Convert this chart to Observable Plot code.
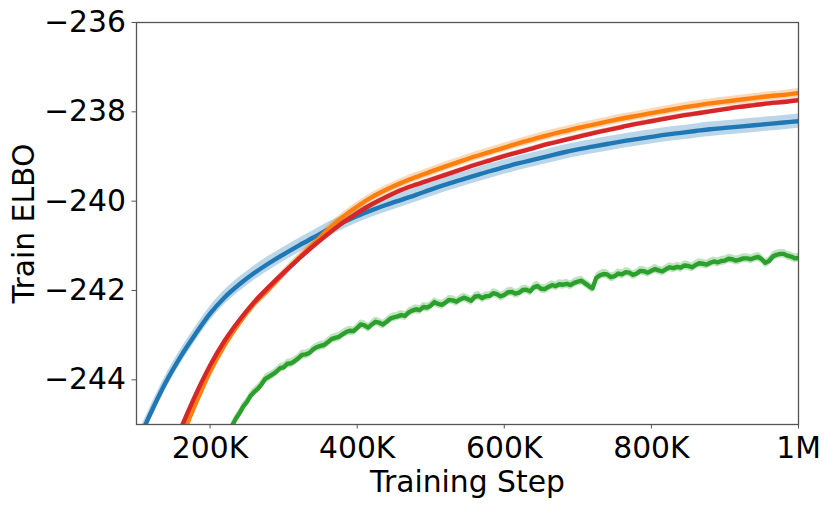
<!DOCTYPE html>
<html>
<head>
<meta charset="utf-8">
<script src="https://cdn.jsdelivr.net/npm/d3@7"></script>
<script src="https://cdn.jsdelivr.net/npm/@observablehq/plot@0.6"></script>
<style>
  html, body { margin: 0; padding: 0; background: #fff; }
</style>
</head>
<body>
<div id="chart"></div>
<script>
// Training step in thousands
const stepsBlue = [100,120,140,160,180,200,220,240,260,280,300,320,340,360,380,400,420,440,460,480,500,520,540,560,580,600,620,640,660,680,700,720,740,760,780,800,820,840,860,880,900,920,940,960,980,1000];
const blueElbo = [-245.45,-244.72,-244.05,-243.48,-242.98,-242.52,-242.15,-241.86,-241.61,-241.39,-241.19,-241.00,-240.82,-240.64,-240.48,-240.33,-240.20,-240.08,-239.97,-239.86,-239.74,-239.63,-239.53,-239.43,-239.33,-239.24,-239.15,-239.07,-238.99,-238.91,-238.84,-238.78,-238.72,-238.66,-238.61,-238.56,-238.51,-238.47,-238.43,-238.39,-238.36,-238.33,-238.30,-238.27,-238.24,-238.21];

const stepsOrangeRed = [140,160,180,200,220,240,260,280,300,320,340,360,380,400,420,440,460,480,500,520,540,560,580,600,620,640,660,680,700,720,740,760,780,800,820,840,860,880,900,920,940,960,980,1000];
const orangeElbo = [-246.20,-245.35,-244.55,-243.82,-243.22,-242.72,-242.30,-241.97,-241.62,-241.28,-240.96,-240.64,-240.36,-240.12,-239.91,-239.74,-239.59,-239.46,-239.34,-239.22,-239.11,-239.00,-238.90,-238.80,-238.70,-238.61,-238.52,-238.44,-238.36,-238.29,-238.22,-238.15,-238.09,-238.03,-237.97,-237.91,-237.86,-237.81,-237.77,-237.73,-237.69,-237.65,-237.62,-237.58];
const redElbo = [-245.90,-245.10,-244.35,-243.68,-243.12,-242.66,-242.26,-241.92,-241.60,-241.30,-241.01,-240.74,-240.49,-240.27,-240.07,-239.90,-239.75,-239.63,-239.52,-239.41,-239.30,-239.19,-239.09,-238.99,-238.90,-238.81,-238.72,-238.64,-238.56,-238.48,-238.41,-238.34,-238.27,-238.21,-238.15,-238.09,-238.04,-237.99,-237.94,-237.89,-237.85,-237.81,-237.78,-237.74];

// green run: [step (K), ELBO]
const greenRun = [
[220,-245.35],[225,-245.18],[230,-245.03],[235,-244.87],[240,-244.75],[245,-244.60],[250,-244.50],[255,-244.36],[260,-244.27],[265,-244.20],
[270,-244.10],[275,-243.98],[280,-243.93],[285,-243.88],[290,-243.82],[295,-243.74],[300,-243.72],[305,-243.64],[310,-243.63],[315,-243.58],
[320,-243.52],[325,-243.44],[330,-243.43],[335,-243.40],[340,-243.32],[345,-243.27],[350,-243.24],[355,-243.22],[360,-243.16],[365,-243.09],
[370,-243.06],[375,-243.04],[380,-242.98],[385,-242.93],[390,-242.90],[395,-242.91],[400,-242.84],[405,-242.76],[410,-242.78],[415,-242.83],
[420,-242.76],[425,-242.70],[430,-242.72],[435,-242.76],[440,-242.70],[445,-242.63],[450,-242.60],[455,-242.58],[460,-242.55],[465,-242.57],
[470,-242.49],[475,-242.45],[480,-242.42],[485,-242.44],[490,-242.37],[495,-242.38],[500,-242.34],[505,-242.26],[510,-242.30],[515,-242.32],
[520,-242.27],[525,-242.21],[530,-242.22],[535,-242.25],[540,-242.20],[545,-242.16],[550,-242.19],[555,-242.23],[560,-242.14],[565,-242.12],
[570,-242.17],[575,-242.13],[580,-242.12],[585,-242.06],[590,-242.08],[595,-242.13],[600,-242.10],[605,-242.04],[610,-242.03],[615,-242.07],
[620,-242.05],[625,-241.99],[630,-241.98],[635,-242.02],[640,-241.93],[645,-241.90],[650,-241.96],[655,-241.97],[660,-241.92],[665,-241.88],
[670,-241.90],[675,-241.86],[680,-241.87],[685,-241.85],[690,-241.88],[695,-241.83],[700,-241.80],[705,-241.78],[710,-241.84],[715,-241.90],
[720,-241.95],[725,-241.72],[730,-241.66],[735,-241.63],[740,-241.64],[745,-241.70],[750,-241.68],[755,-241.62],[760,-241.64],[765,-241.59],
[770,-241.60],[775,-241.65],[780,-241.62],[785,-241.56],[790,-241.57],[795,-241.60],[800,-241.56],[805,-241.52],[810,-241.55],[815,-241.57],
[820,-241.52],[825,-241.48],[830,-241.50],[835,-241.47],[840,-241.49],[845,-241.44],[850,-241.45],[855,-241.48],[860,-241.43],[865,-241.39],
[870,-241.40],[875,-241.42],[880,-241.38],[885,-241.35],[890,-241.37],[895,-241.34],[900,-241.33],[905,-241.29],[910,-241.30],[915,-241.33],
[920,-241.31],[925,-241.28],[930,-241.28],[935,-241.30],[940,-241.27],[945,-241.25],[950,-241.30],[955,-241.38],[960,-241.34],[965,-241.24],
[970,-241.20],[975,-241.18],[980,-241.18],[985,-241.22],[990,-241.24],[995,-241.28],[1000,-241.27]
];

// half-width of the shaded band around each run mean
const seriesColors = ["#1f77b4", "#ff7f0e", "#2ca02c", "#d62728"];
const bandHalfWidth = [0.16, 0.10, 0.10, 0.05];

const xTickValues = [200, 400, 600, 800, 1000];
const xTickLabels = ["200K", "400K", "600K", "800K", "1M"];
const yTickValues = [-244, -242, -240, -238, -236];
const yTickLabels = ["−244", "−242", "−240", "−238", "−236"];

const xLabel = "Training Step";
const yLabel = "Train ELBO";

function rows(steps, values, k) {
  return steps.map((s, i) => ({step: s, v: values[i], lo: values[i] - bandHalfWidth[k], hi: values[i] + bandHalfWidth[k]}));
}
const seriesData = [
  rows(stepsBlue, blueElbo, 0),
  rows(stepsOrangeRed, orangeElbo, 1),
  rows(greenRun.map(d => d[0]), greenRun.map(d => d[1]), 2),
  rows(stepsOrangeRed, redElbo, 3)
];

const marks = [];
seriesData.forEach((d, k) => {
  marks.push(Plot.areaY(d, {x: "step", y1: "lo", y2: "hi", fill: seriesColors[k], fillOpacity: 0.3, curve: "monotone-x", clip: true}));
});
seriesData.forEach((d, k) => {
  marks.push(Plot.lineY(d, {x: "step", y: "v", stroke: seriesColors[k], strokeWidth: 4.4, curve: k === 2 ? "linear" : "monotone-x", clip: true}));
});

const FONT = "DejaVu Sans";
const FS = 29.8;
const chart = Plot.plot({
  width: 831,
  height: 509,
  marginLeft: 136,
  marginRight: 33,
  marginTop: 22,
  marginBottom: 85,
  style: {fontFamily: FONT, fontSize: FS + "px", background: "#fff", color: "#000", overflow: "visible"},
  x: {domain: [100, 1000]},
  y: {domain: [-245, -236]},
  marks: [
    ...marks,
    Plot.frame({stroke: "#555", strokeWidth: 1.3}),
    Plot.axisX({ticks: xTickValues, tickFormat: d => xTickLabels[xTickValues.indexOf(d)], tickSize: 4.5, tickPadding: 7.4, label: null, stroke: "#555", fontSize: FS, fill: "#000"}),
    Plot.axisY({ticks: yTickValues, tickFormat: d => yTickLabels[yTickValues.indexOf(d)], tickSize: 4.5, tickPadding: 6, label: null, stroke: "#555", fontSize: FS, fill: "#000"}),
    Plot.text([xLabel], {frameAnchor: "bottom", text: d => d, dy: 58, textAnchor: "middle", lineAnchor: "middle", fontSize: FS, fill: "#000"}),
    Plot.text([yLabel], {frameAnchor: "left", text: d => d, dx: -112.3, rotate: -90, textAnchor: "middle", lineAnchor: "middle", fontSize: FS, fill: "#000"})
  ]
});
document.getElementById("chart").appendChild(chart);
</script>
</body>
</html>
